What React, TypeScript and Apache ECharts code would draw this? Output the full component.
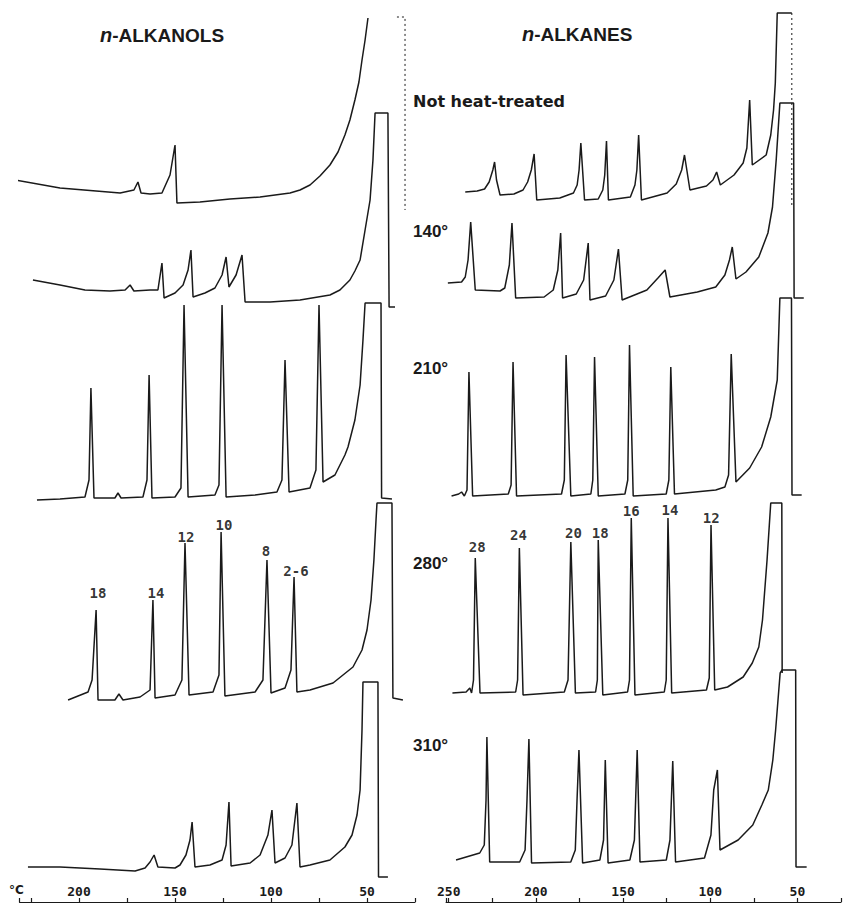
import React, { useEffect, useRef } from "react";
import * as echarts from "echarts";

// ---------- data: [temperature °C, detector signal (arbitrary units above baseline)] ----------
// n-ALKANOLS (left column)
const alkanolsUnheated: number[][] = [
  [233.3, 20], [209.9, 12], [178.6, 7], [171.4, 10], [169.3, 18], [167.7, 7], [163.0, 6], [156.8, 7],
  [152.6, 25], [150.0, 55], [149.0, -3], [137.0, -2], [121.4, 1], [105.7, 3], [90.1, 7], [84.9, 10],
  [79.7, 15], [74.5, 24], [69.3, 35], [65.1, 48], [61.5, 65], [58.9, 80], [56.3, 100], [54.2, 118],
  [52.6, 140], [51.0, 160], [49.5, 182],
];
const alkanolsUnheatedReturn: number[][] = [[34.4, 183], [30.2, 183], [30.2, -10]];
const alkanols140: number[][] = [
  [224.0, 20], [209.9, 15], [196.9, 10], [183.9, 9], [176.0, 10], [173.4, 15], [171.4, 9], [163.0, 10],
  [158.9, 10], [156.8, 37], [155.7, 2], [150.0, 7], [145.8, 15], [143.2, 30], [141.7, 50], [140.6, 3],
  [134.4, 7], [129.2, 12], [125.5, 25], [123.4, 43], [121.9, 13], [118.2, 25], [115.1, 45], [113.5, -2],
  [100.5, -2], [84.9, 0], [69.3, 5], [64.1, 10], [58.9, 20], [56.3, 29], [53.6, 40], [51.0, 70],
  [48.4, 100], [46.9, 140], [45.8, 187], [39.1, 187], [38.5, -7], [35.4, -7],
];
const alkanols210: number[][] = [
  [221.9, 0], [209.9, 1], [196.9, 3], [194.8, 20], [193.8, 112], [192.2, 2], [181.3, 2], [179.7, 7],
  [178.1, 2], [166.7, 3], [164.6, 20], [163.5, 125], [162.0, 2], [150.0, 3], [146.9, 12], [145.3, 195],
  [143.2, 3], [129.2, 5], [127.1, 15], [125.5, 195], [123.4, 3], [108.3, 5], [96.9, 8], [94.3, 20],
  [92.7, 140], [90.6, 8], [79.7, 12], [76.6, 30], [75.0, 195], [72.9, 18], [66.7, 25], [61.5, 45],
  [59.9, 53], [56.3, 80], [53.6, 115], [52.1, 160], [51.0, 197], [42.7, 197], [42.4, 2], [37.0, 1],
];
const alkanols280: number[][] = [
  [205.7, 0], [195.3, 8], [193.2, 20], [191.1, 90], [190.1, 0], [181.3, 0], [179.2, 6], [177.1, 0],
  [168.2, 3], [163.0, 10], [161.5, 100], [160.4, 2], [150.0, 5], [146.4, 20], [144.8, 157], [142.7, 5],
  [130.2, 8], [127.1, 25], [126.0, 168], [124.0, 4], [108.3, 8], [104.2, 20], [102.1, 140], [100.0, 7],
  [92.7, 12], [89.6, 30], [88.0, 123], [86.5, 8], [79.7, 10], [67.7, 17], [57.3, 33], [52.6, 50],
  [50.0, 70], [47.9, 100], [46.4, 140], [45.3, 180], [44.8, 197], [37.0, 197], [36.5, 2], [31.3, 0],
];
const alkanols310: number[][] = [
  [226.6, 3], [209.9, 3], [189.1, 1], [170.8, -1], [165.6, 2], [163.0, 8], [160.9, 15], [158.9, 3],
  [150.0, 2], [147.4, 5], [144.3, 15], [142.2, 30], [141.1, 48], [139.6, 3], [131.8, 5], [125.5, 10],
  [123.4, 25], [121.9, 68], [120.8, 4], [110.9, 7], [105.7, 15], [101.6, 35], [99.5, 60], [97.9, 7],
  [92.7, 12], [89.1, 25], [86.5, 67], [84.9, 3], [79.7, 5], [69.3, 10], [61.5, 23], [57.8, 35],
  [55.2, 55], [53.6, 80], [52.6, 140], [52.1, 188], [44.3, 188], [44.0, -7], [39.1, -7],
];

// n-ALKANES (right column)
const alkanesUnheated: number[][] = [
  [240.6, 8], [233.8, 9], [229.6, 11], [227.0, 18], [224.9, 30], [223.9, 38], [222.8, 20], [220.8, 5],
  [212.9, 6], [207.7, 10], [205.1, 18], [203.0, 30], [201.4, 46], [199.9, 0], [186.8, 2], [179.0, 7],
  [176.9, 15], [175.8, 30], [174.8, 57], [172.7, 0], [164.9, 1], [162.3, 10], [161.2, 25], [160.2, 59],
  [159.1, 0], [146.6, 3], [144.0, 15], [142.9, 30], [141.9, 65], [140.3, 0], [125.7, 7], [120.5, 16],
  [117.4, 30], [115.8, 45], [112.7, 10], [103.3, 14], [99.6, 20], [97.5, 28], [95.4, 15], [87.6, 25],
  [82.4, 37], [80.3, 52], [78.7, 100], [77.2, 35], [69.3, 45], [66.7, 65], [65.1, 90], [64.1, 117],
  [63.0, 187], [54.7, 187],
];
const alkanesUnheatedReturn: number[][] = [[54.7, 187], [54.7, -5]];
const alkanes140: number[][] = [
  [250.5, 17], [242.7, 18], [240.6, 23], [239.0, 40], [237.5, 78], [234.9, 10], [220.8, 9], [218.1, 12],
  [215.5, 35], [214.0, 77], [211.9, 2], [195.7, 3], [190.5, 10], [187.9, 30], [186.3, 67], [185.2, 2],
  [177.4, 6], [173.2, 20], [170.6, 57], [169.6, 0], [160.7, 4], [156.0, 20], [153.4, 51], [151.3, 0],
  [137.2, 10], [130.9, 22], [126.8, 30], [124.1, 3], [108.5, 8], [98.0, 13], [92.8, 25], [90.2, 40],
  [88.6, 53], [86.5, 21], [80.8, 28], [73.5, 43], [68.3, 67], [65.7, 93], [63.6, 140], [61.5, 197],
  [53.7, 197], [53.4, 2], [47.9, 2],
];
const alkanes210: number[][] = [
  [248.4, -1], [244.3, 1], [242.7, 3], [241.1, -1], [239.6, 5], [238.5, 123], [236.4, -1], [216.1, 1],
  [214.5, 10], [213.4, 133], [211.4, -1], [185.8, 1], [184.2, 15], [183.2, 140], [180.5, -1], [169.1, 1],
  [168.0, 15], [167.0, 138], [164.9, -1], [149.7, 1], [148.1, 15], [147.1, 150], [145.0, -1], [126.2, 1],
  [124.7, 15], [123.6, 128], [121.5, 1], [98.0, 5], [92.8, 8], [90.7, 20], [89.2, 141], [86.5, 13],
  [78.7, 27], [71.9, 48], [66.7, 78], [63.0, 115], [61.5, 197], [54.9, 197], [54.6, 0], [49.1, 0],
];
const alkanes280: number[][] = [
  [247.9, 0], [240.1, 1], [238.0, 5], [237.0, 0], [235.9, 13], [234.9, 135], [232.2, 0], [211.9, 1],
  [210.8, 13], [209.8, 145], [207.7, -2], [184.2, 1], [182.1, 13], [180.5, 151], [177.9, 0], [166.4, 1],
  [165.4, 13], [164.9, 153], [162.3, -2], [148.2, 1], [147.1, 13], [146.1, 175], [144.0, -2], [127.3, 1],
  [126.2, 13], [125.2, 175], [123.1, 0], [103.3, 3], [101.7, 15], [100.7, 168], [98.6, 3], [91.3, 6],
  [82.4, 16], [77.2, 30], [73.5, 46], [71.4, 73], [68.8, 133], [66.7, 190], [60.4, 190], [60.2, 20],
];
const alkanes310: number[][] = [
  [245.8, 2], [232.2, 9], [229.6, 17], [228.6, 62], [228.1, 125], [226.5, 0], [209.3, 0], [206.2, 12],
  [205.1, 62], [204.0, 123], [202.5, -1], [180.0, 0], [177.4, 12], [176.4, 62], [175.3, 112], [173.2, -1],
  [163.3, 2], [161.2, 22], [160.2, 102], [158.6, -1], [146.1, 2], [143.5, 22], [141.9, 112], [140.3, 0],
  [125.2, 2], [123.1, 22], [121.5, 101], [119.9, 0], [103.3, 4], [99.6, 27], [98.0, 72], [95.9, 92],
  [94.4, 12], [84.0, 22], [75.6, 37], [70.4, 57], [66.7, 72], [64.1, 102], [62.5, 132], [59.9, 189],
  [58.8, 192], [51.0, 192], [50.8, -5], [44.7, -5],
];

// peak identification labels (carbon number): [temperature, signal]
const alkanolPeakNames = ["18", "14", "12", "10", "8", "2-6"];
const alkanolPeakPos: number[][] = [[190.1, 107], [159.9, 107], [144.3, 163], [124.5, 175], [102.6, 149], [87.0, 129]];
const alkanePeakNames = ["28", "24", "20", "18", "16", "14", "12"];
const alkanePeakPos: number[][] = [[233.8, 146], [210.3, 158], [179.0, 160], [163.8, 160], [146.1, 182], [124.1, 183], [100.6, 175]];

const conditionLabels = ["Not heat-treated", "140°", "210°", "280°", "310°"];
const axisUnit = "°C";

// ---------- layout (pixels) ----------
const INK = "#1a1a1a";
const leftBaselines = [200, 300, 500, 700, 870];
const rightBaselines = [200, 300, 495, 693, 862];
const conditionCenters = [103, 233, 370, 565, 747];
const LEFT = { left: 19.5, width: 395.5, min: 25, max: 231 };
const RIGHT = { left: 446.1, width: 433.7, min: 25, max: 251.5 };

export default function App() {
  const ref = useRef<HTMLDivElement>(null);

  useEffect(() => {
    document.body.style.margin = "0";
    if (!ref.current) return;
    const chart = echarts.init(ref.current, undefined, { renderer: "svg" });

    const leftTraces = [alkanolsUnheated, alkanols140, alkanols210, alkanols280, alkanols310];
    const rightTraces = [alkanesUnheated, alkanes140, alkanes210, alkanes280, alkanes310];

    const grids: any[] = [];
    const xAxes: any[] = [];
    const yAxes: any[] = [];
    const series: any[] = [];

    const addPanel = (col: any, baseline: number, data: number[][], bottom: boolean) => {
      const idx = grids.length;
      grids.push({ left: col.left, width: col.width, top: baseline - 100, height: 100 });
      xAxes.push({
        type: "value",
        gridIndex: idx,
        min: col.min,
        max: col.max,
        interval: 25,
        inverse: true,
        show: bottom,
        offset: bottom ? 902 - baseline : 0,
        axisLine: { show: true, onZero: false, lineStyle: { color: INK, width: 1.2 } },
        axisTick: { show: true, inside: true, length: 4, lineStyle: { color: INK, width: 1.2 } },
        axisLabel: {
          show: true,
          inside: true,
          margin: 4,
          color: INK,
          fontFamily: "DejaVu Sans Mono",
          fontWeight: "bold",
          fontSize: 13,
          formatter: (v: number) => (v % 50 === 0 && v >= 50 ? String(v) : ""),
        },
        splitLine: { show: false },
      });
      yAxes.push({ type: "value", gridIndex: idx, min: 0, max: 100, show: false, splitLine: { show: false } });
      series.push({
        type: "line",
        xAxisIndex: idx,
        yAxisIndex: idx,
        data,
        showSymbol: false,
        clip: false,
        silent: true,
        lineStyle: { color: INK, width: 1.5 },
      });
      return idx;
    };

    const leftIdx = leftTraces.map((d, i) => addPanel(LEFT, leftBaselines[i], d, i === 4));
    const rightIdx = rightTraces.map((d, i) => addPanel(RIGHT, rightBaselines[i], d, i === 4));

    // faint pen-return lines of the off-scale solvent peaks
    const dotted = (idx: number, data: number[][]) => ({
      type: "line",
      xAxisIndex: idx,
      yAxisIndex: idx,
      data,
      showSymbol: false,
      clip: false,
      silent: true,
      lineStyle: { color: INK, width: 1, type: [2, 3] },
    });
    series.push(dotted(leftIdx[0], alkanolsUnheatedReturn));
    series.push(dotted(rightIdx[0], alkanesUnheatedReturn));

    const peakLabels = (idx: number, names: string[], pos: number[][]) => ({
      type: "scatter",
      xAxisIndex: idx,
      yAxisIndex: idx,
      symbolSize: 0,
      clip: false,
      silent: true,
      data: names.map((n, i) => ({ name: n, value: pos[i] })),
      label: {
        show: true,
        position: "inside",
        formatter: (p: any) => p.name,
        color: "#000",
        fontFamily: "DejaVu Sans Mono",
        fontWeight: "bold",
        fontSize: 14,
      },
    });
    series.push(peakLabels(leftIdx[3], alkanolPeakNames, alkanolPeakPos));
    series.push(peakLabels(rightIdx[3], alkanePeakNames, alkanePeakPos));

    const titleStyle = {
      fill: INK,
      fontFamily: "Liberation Sans",
      fontSize: 19,
      fontWeight: "bold",
    };
    const italicN = { fontStyle: "italic", fontSize: 20, fontWeight: "bold", fill: INK, fontFamily: "Liberation Sans" };
    const graphic: any[] = [
      { type: "text", left: 100, top: 25, style: { ...titleStyle, text: "{i|n}-ALKANOLS", rich: { i: italicN } } },
      { type: "text", left: 522, top: 24, style: { ...titleStyle, text: "{i|n}-ALKANES", rich: { i: italicN } } },
      {
        type: "text",
        left: 9,
        top: 884,
        style: { text: axisUnit, fill: INK, fontFamily: "DejaVu Sans", fontWeight: "bold", fontSize: 12 },
      },
      ...conditionLabels.map((t, i) => ({
        type: "text",
        left: 413,
        top: conditionCenters[i] - 10,
        style: {
          text: t,
          fill: INK,
          fontFamily: i === 0 ? "DejaVu Sans" : "Liberation Sans",
          fontWeight: "bold",
          fontSize: i === 0 ? 16 : 17,
        },
      })),
    ];

    chart.setOption({
      animation: false,
      backgroundColor: "#ffffff",
      grid: grids,
      xAxis: xAxes,
      yAxis: yAxes,
      series,
      graphic,
    });

    return () => chart.dispose();
  }, []);

  return <div ref={ref} style={{ width: 844, height: 905 }} />;
}
